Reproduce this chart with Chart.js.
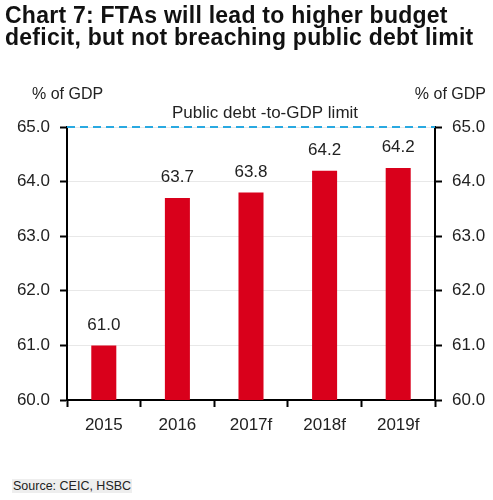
<!DOCTYPE html>
<html>
<head>
<meta charset="utf-8">
<script src="https://cdn.jsdelivr.net/npm/chart.js@4/dist/chart.umd.min.js"></script>
<style>
  html, body { margin: 0; padding: 0; background: #fff; }
  body { width: 493px; height: 500px; position: relative; overflow: hidden; font-family: "Liberation Sans", Arial, sans-serif; }
  #title { position: absolute; left: 5px; top: 4px; font-size: 23px; font-weight: bold; line-height: 22px; letter-spacing: 0.25px; color: #111; white-space: nowrap; }
  #source { position: absolute; left: 12px; top: 479px; font-size: 12.5px; color: #222; background: #eeeeee; padding: 0 1px; }
  #wrap { position: absolute; left: 0; top: 0; width: 493px; height: 500px; }
</style>
</head>
<body>
<div id="wrap"><canvas id="c"></canvas></div>
<div id="title">Chart 7: FTAs will lead to higher budget<br>deficit, but not breaching public debt limit</div>
<div id="source">Source: CEIC, HSBC</div>
<script>
const categories = ["2015", "2016", "2017f", "2018f", "2019f"];
const debtValues = [61.0, 63.7, 63.8, 64.2, 64.25];
const debtLabels = ["61.0", "63.7", "63.8", "64.2", "64.2"];
const debtLimit = 65.0;
const limitLabel = "Public debt -to-GDP limit";
const axisTitle = "% of GDP";
const yMin = 60, yMax = 65;

const FONT = '"Liberation Sans", Arial, sans-serif';

const overlay = {
  id: 'overlay',
  afterDatasetsDraw(chart) {
    const ctx = chart.ctx;
    const y = chart.scales.y;
    const area = chart.chartArea;
    const meta = chart.getDatasetMeta(0);
    ctx.save();
    // value labels
    ctx.font = '17px ' + FONT;
    ctx.fillStyle = '#222';
    ctx.textAlign = 'center';
    ctx.textBaseline = 'bottom';
    meta.data.forEach((bar, i) => {
      ctx.fillText(debtLabels[i], bar.x, bar.y - 12);
    });
    // limit line
    const ly = y.getPixelForValue(debtLimit);
    ctx.strokeStyle = '#29a9e1';
    ctx.lineWidth = 2;
    ctx.setLineDash([8, 5]);
    ctx.beginPath();
    ctx.moveTo(area.left, ly);
    ctx.lineTo(area.right, ly);
    ctx.stroke();
    ctx.setLineDash([]);
    ctx.textAlign = 'center';
    ctx.textBaseline = 'middle';
    ctx.fillStyle = '#222';
    ctx.fillText(limitLabel, area.left + 198, ly - 14);
    // axis titles
    ctx.font = '16px ' + FONT;
    ctx.textAlign = 'left';
    ctx.fillText(axisTitle, 32, 95);
    ctx.textAlign = 'right';
    ctx.fillText(axisTitle, 486, 95);
    ctx.restore();
  }
};

new Chart(document.getElementById('c'), {
  type: 'bar',
  data: {
    labels: categories,
    datasets: [{
      data: debtValues,
      backgroundColor: '#d9001b',
      borderWidth: 0,
      barPercentage: 0.34,
      categoryPercentage: 1.0
    }]
  },
  options: {
    responsive: true,
    maintainAspectRatio: false,
    animation: false,
    layout: { padding: { top: 127, bottom: 60, left: 0, right: 0 } },
    plugins: { legend: { display: false }, tooltip: { enabled: false }, title: { display: false } },
    scales: {
      x: {
        offset: true,
        grid: { display: true, offset: true, drawOnChartArea: false, tickColor: '#000', tickLength: 7, tickWidth: 2 },
        border: { color: '#000', width: 2 },
        ticks: { color: '#222', font: { family: FONT, size: 17 }, padding: 8, maxRotation: 0 },
        afterFit(s) { s.height = 40; }
      },
      y: {
        position: 'left',
        min: yMin, max: yMax,
        grid: { color: '#e8e8e8', lineWidth: 1, tickColor: '#000', tickLength: 7, tickWidth: 2 },
        border: { color: '#000', width: 2 },
        ticks: { stepSize: 1, color: '#222', font: { family: FONT, size: 17 }, padding: 10, callback: v => v.toFixed(1) },
        afterFit(s) { s.width = 67; }
      },
      y2: {
        position: 'right',
        min: yMin, max: yMax,
        grid: { drawOnChartArea: false, tickColor: '#000', tickLength: 7, tickWidth: 2 },
        border: { color: '#000', width: 2 },
        ticks: { stepSize: 1, color: '#222', font: { family: FONT, size: 17 }, padding: 10, callback: v => v.toFixed(1) },
        afterFit(s) { s.width = 58; }
      }
    }
  },
  plugins: [overlay]
});
</script>
</body>
</html>
